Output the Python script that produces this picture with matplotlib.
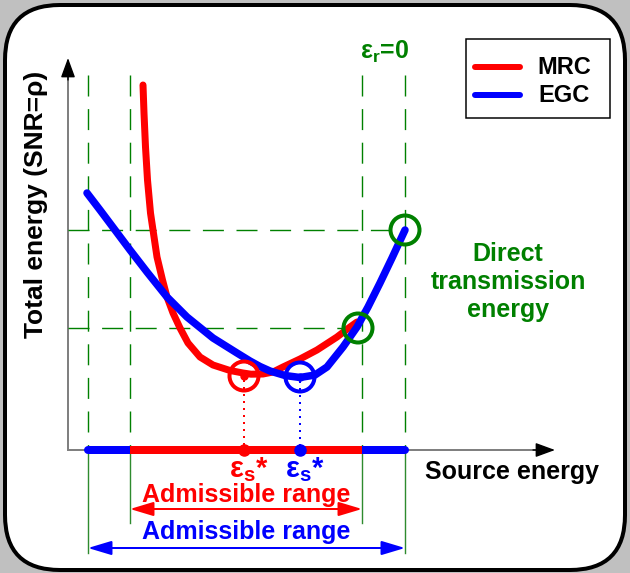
import matplotlib.pyplot as plt
from matplotlib.patches import FancyBboxPatch, Circle, Rectangle

plt.rcParams['font.family'] = ['Liberation Sans', 'DejaVu Sans']
plt.rcParams['font.weight'] = 'bold'
plt.rcParams['mathtext.fontset'] = 'custom'
plt.rcParams['mathtext.rm'] = 'Liberation Sans:bold'
plt.rcParams['mathtext.it'] = 'Liberation Sans:bold'
plt.rcParams['mathtext.bf'] = 'Liberation Sans:bold'

# schematic curves: source energy vs total energy (diagram units)
mrc_x = [75, 76, 77.5, 79.5, 82.5, 85, 89, 94.5, 99, 105, 112, 120, 132, 145, 162, 175, 183, 195,
         205, 215, 232, 249, 269, 282, 289]
mrc_y = [365, 337, 303, 270, 237, 220, 193, 170, 153, 137, 122, 107, 93, 85, 79.5, 77, 75.8, 76,
         78, 83, 91, 100, 113, 123, 128]
egc_x = [19, 32, 47, 62, 79, 99, 119, 145, 169, 182, 192, 202, 217, 232, 247, 259, 275, 289, 300,
         312, 324, 337]
egc_y = [257, 240, 220, 200, 178, 153, 133, 112, 97, 89, 83.5, 79, 74.5, 72.5, 75, 83, 103, 123,
         143, 167, 192, 220]

mrc_range = [62, 294]
egc_range = [20, 337]
mrc_opt = [176, 74]
egc_opt = [232, 73]
direct_points_x = [290, 337]
direct_points_y = [122, 220]

RED, BLUE, GREEN = '#ff0000', '#0000ff', '#008000'
PX = 0.72  # points per pixel

fig = plt.figure(figsize=(6.3, 5.73), dpi=100, facecolor='#c0c0c0')
ax = fig.add_axes([0, 0, 1, 1])
ax.set_xlim(-68, 562)
ax.set_ylim(-123, 450)
ax.axis('off')

ax.add_patch(FancyBboxPatch((-63, -120), 620, 565, boxstyle='round,pad=0,rounding_size=55',
                            facecolor='white', edgecolor='black', lw=4 * PX, zorder=0))

# axes with arrow heads
ax.plot([0, 0], [0, 385], color='#808080', lw=2 * PX, zorder=1)
ax.plot([0, 480], [0, 0], color='#808080', lw=2 * PX, zorder=1)
head = dict(arrowstyle='-|>,head_length=0.6,head_width=0.22', color='black', lw=1,
            mutation_scale=20, shrinkA=0, shrinkB=0)
ax.annotate('', xy=(0, 392), xytext=(0, 370), arrowprops=head)
ax.annotate('', xy=(487, 0), xytext=(465, 0), arrowprops=head)

# guide lines
dash = (0, (15, 9))
for x in egc_range + mrc_range:
    ax.plot([x, x], [375, 0], color=GREEN, lw=1.4 * PX, ls=dash, zorder=1)
for x in egc_range:
    ax.plot([x, x], [0, -103], color='#2e8b2e', lw=1.4 * PX, zorder=1)
for x in mrc_range:
    ax.plot([x, x], [0, -73], color='#2e8b2e', lw=1.4 * PX, zorder=1)
ax.plot([0, egc_range[1]], [direct_points_y[1]] * 2, color=GREEN, lw=1.4 * PX, ls=dash, zorder=1)
ax.plot([0, mrc_range[1]], [direct_points_y[0]] * 2, color=GREEN, lw=1.4 * PX, ls=dash, zorder=1)

# admissible ranges on the source-energy axis
ax.plot(egc_range, [0, 0], color=BLUE, lw=8 * PX, solid_capstyle='round', zorder=2)
ax.plot(mrc_range, [0, 0], color=RED, lw=8 * PX, solid_capstyle='butt', zorder=3)

# curves
ax.plot(mrc_x, mrc_y, color=RED, lw=7 * PX, solid_capstyle='round', solid_joinstyle='round', zorder=4)
ax.plot(egc_x, egc_y, color=BLUE, lw=7.5 * PX, solid_capstyle='round', solid_joinstyle='round', zorder=5)

# optimum points
for (x, y), c in [(mrc_opt, RED), (egc_opt, BLUE)]:
    ax.add_patch(Circle((x, y), 14.5, fill=False, edgecolor=c, lw=4 * PX, zorder=6))
    ax.plot([x, x], [y - 4, 0], color=c, lw=2 * PX, ls=(0, (1, 2.5)), zorder=6)
    ax.plot(x, y, 'o', color=c, ms=5, zorder=6)
    ax.plot(x, 0, 'o', color=c, ms=8, zorder=6)
    ax.text(x + 5, -27, r'ε$_\mathrm{s}$*', color=c, fontsize=21, ha='center', va='baseline')

for x, y in zip(direct_points_x, direct_points_y):
    ax.add_patch(Circle((x, y), 14.5, fill=False, edgecolor=GREEN, lw=4 * PX, zorder=7))

# range arrows
for rng, y_arrow, y_text, c in [(mrc_range, -59, -45, RED), (egc_range, -98, -82, BLUE)]:
    ax.annotate('', xy=(rng[0], y_arrow), xytext=(rng[1], y_arrow),
                arrowprops=dict(arrowstyle='<|-|>,head_length=0.6,head_width=0.18', color=c,
                                lw=2 * PX, mutation_scale=24, shrinkA=0, shrinkB=0))
    ax.text(178, y_text, 'Admissible range', color=c, fontsize=18, ha='center', va='center')

# labels
ax.text(444, -22, 'Source energy', fontsize=18, ha='center', va='center')
ax.text(-32, 246, 'Total energy (SNR=ρ)', fontsize=19, rotation=90, ha='center', va='center')
ax.text(317, 398, r'$\mathrm{ε_r}$=0', color=GREEN, fontsize=18, ha='center', va='center')
ax.text(440, 168, 'Direct\ntransmission\nenergy', color=GREEN, fontsize=18, ha='center',
        va='center', linespacing=1.2)

# legend box
ax.add_patch(Rectangle((398, 332), 144, 79, facecolor='white', edgecolor='black', lw=1.5 * PX, zorder=8))
for y, c, name in [(383, RED, 'MRC'), (355, BLUE, 'EGC')]:
    ax.plot([407, 452], [y, y], color=c, lw=6 * PX, solid_capstyle='round', zorder=9)
    ax.text(496, y, name, fontsize=17, ha='center', va='center', zorder=9)

fig.savefig('out.png', dpi=100, facecolor=fig.get_facecolor())
